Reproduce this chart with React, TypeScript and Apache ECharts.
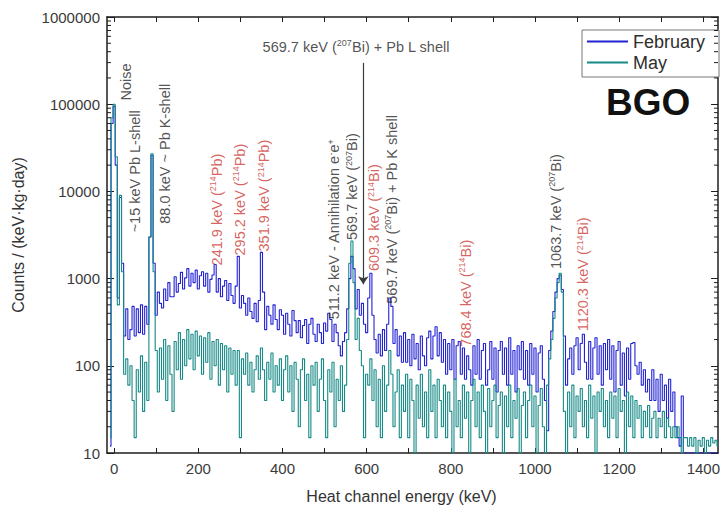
import React, { useEffect, useRef } from 'react';
import * as echarts from 'echarts';

const FONT = '"Liberation Sans", Arial, Helvetica, sans-serif';

// Histogram bins: centre of first bin and bin width (keV)
const BIN_START = -10;
const BIN_WIDTH = 5;

// February spectrum, counts / (keV·kg·day), 10 bins (50 keV) per row, starting at -10 keV
const february: number[] = [
  12, 60000, 95000, 20000, 600, 8500, 1500, 220, 450, 200,
  260, 480, 220, 450, 240, 500, 230, 480, 300, 3000,
  26000, 1500, 380, 700, 520, 460, 760, 560, 900, 620,
  620, 1050, 700, 880, 1180, 760, 1020, 1300, 820, 1150,
  900, 1250, 760, 1080, 1200, 820, 1150, 700, 980, 1100,
  1450, 700, 1000, 620, 820, 950, 560, 880, 640, 520,
  820, 1800, 460, 640, 520, 380, 600, 420, 350, 520,
  320, 560, 2000, 700, 260, 480, 380, 300, 500, 340,
  260, 440, 380, 230, 400, 300, 220, 430, 330, 240,
  330, 210, 290, 340, 180, 300, 350, 230, 190, 300,
  240, 180, 310, 250, 400, 340, 190, 300, 240, 170,
  130, 190, 240, 450, 1000, 1800, 1300, 450, 750, 380,
  520, 300, 240, 600, 1150, 380, 200, 140, 230, 130,
  260, 150, 300, 600, 480, 180, 260, 130, 220, 110,
  240, 110, 200, 100, 230, 120, 180, 90, 220, 130,
  100, 210, 250, 120, 220, 280, 130, 240, 110, 200,
  80, 180, 90, 200, 70, 170, 190, 80, 160, 70,
  130, 90, 60, 170, 80, 200, 70, 150, 180, 60,
  90, 190, 70, 160, 50, 150, 190, 80, 160, 60,
  210, 80, 150, 50, 170, 90, 190, 70, 150, 60,
  180, 80, 160, 50, 140, 170, 70, 40, 18, 150,
  250, 420, 700, 1000, 1100, 750, 220, 60, 120, 160,
  80, 170, 210, 90, 180, 230, 110, 70, 190, 70,
  160, 210, 80, 170, 60, 180, 90, 200, 70, 170,
  50, 150, 190, 60, 140, 45, 160, 70, 180, 185,
  100, 80, 110, 60, 90, 50, 70, 40, 90, 40,
  70, 30, 80, 40, 60, 25, 70, 30, 50, 20,
  15, 12, 45, 10, 10, 10, 10, 10, 10, 10,
  10, 10, 10, 10, 10, 10, 10, 10, 10, 10,
];

// May spectrum, same binning
const may: number[] = [
  15, 70000, 100000, 25000, 500, 9000, 1200, 80, 120, 60,
  100, 40, 15, 90, 50, 130, 30, 110, 40, 3000,
  27000, 1200, 150, 50, 160, 70, 200, 40, 170, 80,
  30, 190, 90, 240, 70, 200, 100, 260, 120, 230,
  90, 250, 130, 220, 80, 210, 110, 240, 70, 190,
  100, 200, 60, 180, 90, 170, 50, 160, 80, 150,
  60, 150, 15, 120, 80, 140, 60, 110, 50, 90,
  130, 70, 160, 90, 40, 110, 70, 140, 50, 100,
  60, 120, 40, 90, 130, 50, 100, 30, 110, 70,
  20, 90, 120, 40, 80, 15, 100, 60, 110, 30,
  70, 120, 40, 15, 90, 50, 110, 20, 70, 40,
  100, 30, 60, 200, 1500, 2700, 900, 200, 350, 150,
  100, 15, 80, 60, 120, 40, 90, 20, 70, 15,
  100, 30, 60, 150, 80, 20, 50, 90, 15, 60,
  30, 80, 15, 70, 40, 10, 60, 25, 80, 20,
  50, 15, 90, 30, 60, 15, 70, 40, 20, 60,
  15, 50, 30, 10, 70, 20, 40, 15, 60, 25,
  50, 10, 40, 70, 20, 50, 15, 60, 30, 10,
  55, 20, 40, 60, 15, 35, 50, 10, 45, 20,
  60, 15, 40, 25, 55, 10, 35, 50, 15, 40,
  60, 20, 45, 10, 35, 55, 20, 10, 60, 120,
  200, 350, 600, 900, 1150, 700, 30, 10, 50, 20,
  60, 15, 45, 30, 55, 20, 40, 15, 60, 25,
  45, 10, 50, 30, 55, 20, 40, 15, 50, 25,
  45, 15, 55, 30, 40, 10, 50, 20, 45, 15,
  40, 25, 35, 15, 30, 20, 35, 15, 25, 30,
  15, 25, 20, 30, 15, 25, 20, 15, 20, 15,
  20, 15, 10, 15, 15, 12, 15, 12, 15, 10,
  14, 12, 15, 10, 14, 12, 15, 13, 14, 12,
];

const X_MIN = -17;
const X_MAX = 1435;
const Y_MIN = 10;
const Y_MAX = 1000000;

const xLabelValues = [0, 200, 400, 600, 800, 1000, 1200, 1400];
const xTickValues = [0, 100, 200, 300, 400, 500, 600, 700, 800, 900, 1000, 1100, 1200, 1300, 1400];
const yMinorTickValues = [
  20, 30, 40, 50, 60, 70, 80, 90,
  200, 300, 400, 500, 600, 700, 800, 900,
  2000, 3000, 4000, 5000, 6000, 7000, 8000, 9000,
  20000, 30000, 40000, 50000, 60000, 70000, 80000, 90000,
  200000, 300000, 400000, 500000, 600000, 700000, 800000, 900000,
];

// Peak annotations: text, energy position (keV), height (counts), colour, rotation (deg)
const annotationTexts = [
  'Noise',
  '~15 keV Pb L-shell',
  '88.0 keV ~ Pb K-shell',
  '241.9 keV ({s|214}Pb)',
  '295.2 keV ({s|214}Pb)',
  '351.9 keV ({s|214}Pb)',
  '511.2 keV - Annihilation e{s|-}e{s|+}',
  '569.7 keV ({s|207}Bi)',
  '609.3 keV ({s|214}Bi)',
  '569.7 keV ({s|207}Bi) + Pb K shell',
  '768.4 keV ({s|214}Bi)',
  '1063.7 keV ({s|207}Bi)',
  '1120.3 keV ({s|214}Bi)',
  '569.7 keV ({s|207}Bi) + Pb L shell',
];
const annotationEnergies = [28, 50, 121, 244, 298, 357, 523, 566, 618, 660, 835, 1049, 1115, 575];
const annotationHeights = [180000, 17000, 27000, 6200, 8050, 8950, 3660, 11350, 5000, 6200, 680, 5875, 1117, 454000];
const BLACK = '#262626';
const RED = '#cc3b36';
const annotationColors = [BLACK, BLACK, BLACK, RED, RED, RED, BLACK, BLACK, RED, BLACK, RED, BLACK, RED, BLACK];
const annotationRotations = [90, 90, 90, 90, 90, 90, 90, 90, 90, 90, 90, 90, 90, 0];

const arrowEnergy = 592;
const arrowFrom = 298000;
const arrowTo = 860;

export default function App() {
  const ref = useRef<HTMLDivElement>(null);

  useEffect(() => {
    if (!ref.current) return;
    const chart = echarts.init(ref.current, null, { renderer: 'svg' });

    const energies = february.map((_, i) => BIN_START + i * BIN_WIDTH);
    const febData = february.map((v, i) => [energies[i], v]);
    const mayData = may.map((v, i) => [energies[i], v]);

    const annData = annotationTexts.map((t, i) => ({
      value: [annotationEnergies[i], annotationHeights[i]],
      label: {
        formatter: t,
        color: annotationColors[i],
        rotate: annotationRotations[i],
        rich: {
          s: {
            fontSize: 9,
            color: annotationColors[i],
            fontFamily: FONT,
            verticalAlign: 'top',
            lineHeight: 9,
          },
        },
      },
    }));

    const axisLine = { show: true, onZero: false, lineStyle: { color: '#1e1e1e', width: 1.5 } };
    const tickLine = { color: '#1e1e1e', width: 1 };
    const labelStyle = { fontSize: 15, color: '#3a3a3a', fontFamily: FONT };

    chart.setOption({
      animation: false,
      backgroundColor: '#ffffff',
      textStyle: { fontFamily: FONT },
      grid: { left: 107, right: 4, top: 17, bottom: 55, containLabel: false },
      legend: {
        data: ['February', 'May'],
        orient: 'vertical',
        left: 582,
        top: 30,
        padding: [2, 14, 5, 5],
        itemGap: 2,
        itemWidth: 41,
        itemHeight: 2,
        icon: 'rect',
        borderColor: '#777777',
        borderWidth: 1,
        backgroundColor: '#ffffff',
        selectedMode: false,
        textStyle: { fontSize: 18, color: '#2e2e2e', fontFamily: FONT, lineHeight: 19 },
      },
      xAxis: [
        {
          type: 'value',
          position: 'bottom',
          min: X_MIN,
          max: X_MAX,
          name: 'Heat channel energy (keV)',
          nameLocation: 'middle',
          nameGap: 35,
          nameTextStyle: { fontSize: 16, color: '#333333', fontFamily: FONT, padding: [0, 22, 0, 0] },
          axisLine,
          axisTick: { show: true, inside: true, length: 5, customValues: xTickValues, lineStyle: tickLine },
          axisLabel: { ...labelStyle, margin: 8, customValues: xLabelValues, formatter: (v: number) => String(Math.round(v)) },
          splitLine: { show: false },
        },
        {
          type: 'value',
          position: 'top',
          min: X_MIN,
          max: X_MAX,
          axisLine,
          axisTick: { show: true, inside: true, length: 5, customValues: xTickValues, lineStyle: tickLine },
          axisLabel: { show: false },
          splitLine: { show: false },
        },
      ],
      yAxis: [
        {
          type: 'log',
          logBase: 10,
          position: 'left',
          min: Y_MIN,
          max: Y_MAX,
          splitNumber: 5,
          name: 'Counts / (keV·kg·day)',
          nameLocation: 'middle',
          nameGap: 81,
          nameTextStyle: { fontSize: 16, color: '#333333', fontFamily: FONT },
          axisLine,
          axisTick: { show: true, inside: true, length: 7, lineStyle: tickLine },
          axisLabel: { ...labelStyle, margin: 7, formatter: (v: number) => String(Math.round(v)) },
          splitLine: { show: false },
        },
        {
          type: 'log',
          logBase: 10,
          position: 'right',
          min: Y_MIN,
          max: Y_MAX,
          splitNumber: 5,
          axisLine,
          axisTick: { show: true, inside: true, length: 7, lineStyle: tickLine },
          axisLabel: { show: false },
          splitLine: { show: false },
        },
      ],
      series: [
        {
          name: 'February',
          type: 'line',
          step: 'middle',
          showSymbol: false,
          symbol: 'none',
          data: febData,
          color: '#2222d4',
          lineStyle: { width: 1.1, color: '#2222d4' },
          z: 2,
        },
        {
          name: 'May',
          type: 'line',
          step: 'middle',
          showSymbol: false,
          symbol: 'none',
          data: mayData,
          color: '#168a86',
          lineStyle: { width: 1.1, color: '#168a86' },
          z: 3,
        },
        {
          type: 'custom',
          silent: true,
          z: 6,
          data: yMinorTickValues.map((v) => [X_MIN, v]),
          renderItem: (_params: any, api: any) => {
            const v = api.value(1);
            const l = api.coord([X_MIN, v]);
            const r = api.coord([X_MAX, v]);
            return {
              type: 'group',
              children: [
                { type: 'line', shape: { x1: l[0], y1: l[1], x2: l[0] + 4, y2: l[1] }, style: { stroke: '#1e1e1e', lineWidth: 1 } },
                { type: 'line', shape: { x1: r[0], y1: r[1], x2: r[0] - 4, y2: r[1] }, style: { stroke: '#1e1e1e', lineWidth: 1 } },
              ],
            };
          },
        },
        {
          type: 'scatter',
          silent: true,
          z: 10,
          symbol: 'circle',
          symbolSize: 1,
          itemStyle: { color: 'rgba(0,0,0,0)' },
          label: { show: true, position: 'inside', fontSize: 14.5, fontFamily: FONT, lineHeight: 16 },
          data: annData,
          markLine: {
            silent: true,
            symbol: ['none', 'arrow'],
            symbolSize: 8,
            label: { show: false },
            lineStyle: { color: '#3c3c3c', width: 1.2, type: 'solid' },
            data: [[{ coord: [arrowEnergy, arrowFrom] }, { coord: [arrowEnergy, arrowTo] }]],
          },
        },
      ],
      graphic: [
        {
          type: 'text',
          left: 606,
          top: 84,
          z: 20,
          style: { text: 'BGO', fontSize: 37, fontWeight: 'bold', fontFamily: FONT, fill: '#111111' },
        },
      ],
    });

    return () => chart.dispose();
  }, []);

  return (
    <div
      ref={ref}
      style={{ position: 'fixed', left: 0, top: 0, width: 723, height: 509, background: '#ffffff' }}
    />
  );
}
